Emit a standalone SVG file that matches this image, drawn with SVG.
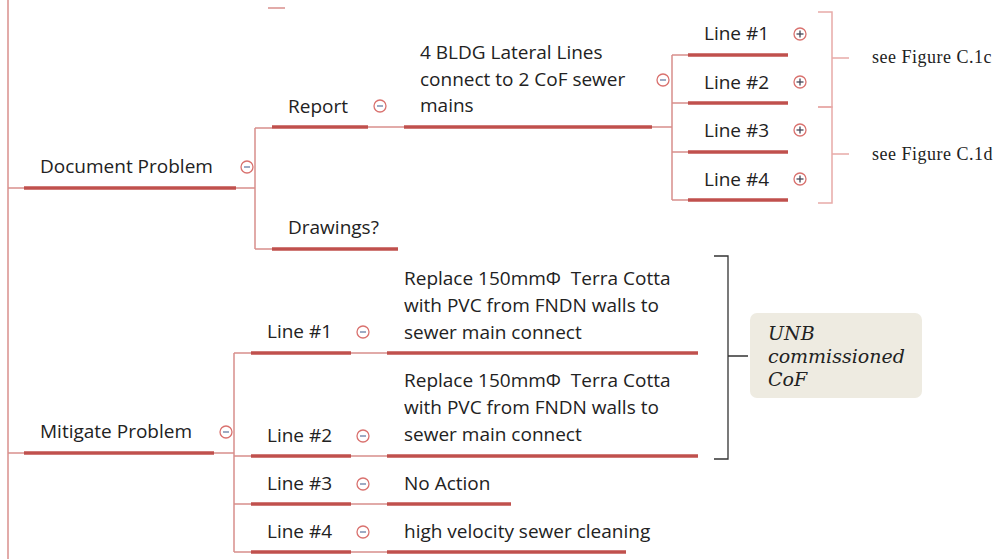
<svg xmlns="http://www.w3.org/2000/svg" width="998" height="559" viewBox="0 0 998 559">
<defs>
<style>
.t{font-family:"Open Sans","Noto Sans",sans-serif;font-size:19px;fill:#222;white-space:pre}
.s{font-family:"Liberation Serif",serif;font-size:18px;fill:#222;letter-spacing:0.5px}
.n{font-family:"DejaVu Serif",serif;font-size:19px;font-style:italic;fill:#222;}
.u{stroke:#c0504d;stroke-width:3.5;fill:none}
.c{stroke:#d88f8c;stroke-width:1.5;fill:none}
.b{stroke:#e8aaa8;stroke-width:1.5;fill:none}
.k{stroke:#333;stroke-width:1.3;fill:none}
.o{fill:#fff;stroke:#d9716e;stroke-width:1.3}
.m{stroke:#7c8fb0;stroke-width:1.5}
.p{stroke:#445;stroke-width:1.3}
</style>
<g id="minus"><circle class="o" r="6"/><line class="m" x1="-3" y1="0" x2="3" y2="0"/></g>
<g id="plus"><circle class="o" r="6"/><line class="p" x1="-3.5" y1="0" x2="3.5" y2="0"/><line class="p" x1="0" y1="-3.5" x2="0" y2="3.5"/></g>
</defs>
<rect width="998" height="559" fill="#fff"/>

<g id="connectors">
<line class="c" x1="8" y1="0" x2="8" y2="559"/>
<line class="c" x1="268" y1="8" x2="285" y2="8"/>
<line class="c" x1="8" y1="188" x2="24" y2="188"/>
<line class="c" x1="8" y1="453" x2="24" y2="453"/>
<path class="c" d="M236 188H255M255 128V249M255 128H272M255 249H272"/>
<path class="c" d="M368 127H404"/>
<path class="c" d="M652 127H672M672 55V200M672 55H688M672 103H688M672 152H688M672 200H688"/>
<path class="c" d="M214 453H234M234 353V552M234 353H251M234 456H251M234 504H251M234 552H251"/>
<path class="c" d="M351 353H388M351 456H388M351 504H388M351 552H388"/>
<path class="b" d="M818 12H832V107H818M832 58H849"/>
<path class="b" d="M818 107H832V203H818M832 154H849"/>
<path class="k" d="M714 256H728V459H714M728 356H748"/>
</g>

<g id="document-problem">
<line class="u" x1="24" y1="188" x2="236" y2="188"/>
<text class="t" x="40" y="173">Document Problem</text>
<use href="#minus" x="247" y="167"/>
</g>
<g id="report">
<line class="u" x1="272" y1="127" x2="368" y2="127"/>
<text class="t" x="288" y="113">Report</text>
<use href="#minus" x="380" y="106"/>
</g>
<g id="drawings">
<line class="u" x1="272" y1="249" x2="398" y2="249"/>
<text class="t" x="288" y="234">Drawings?</text>
</g>
<g id="lateral-lines">
<line class="u" x1="404" y1="127" x2="652" y2="127"/>
<text class="t" x="420" y="59">4 BLDG Lateral Lines</text>
<text class="t" x="420" y="86">connect to 2 CoF sewer</text>
<text class="t" x="420" y="112">mains</text>
<use href="#minus" x="663" y="80"/>
</g>
<g id="doc-line1">
<line class="u" x1="688" y1="55" x2="788" y2="55"/>
<text class="t" x="704" y="40">Line #1</text>
<use href="#plus" x="800" y="34"/>
</g>
<g id="doc-line2">
<line class="u" x1="688" y1="103" x2="788" y2="103"/>
<text class="t" x="704" y="89">Line #2</text>
<use href="#plus" x="800" y="82"/>
</g>
<g id="doc-line3">
<line class="u" x1="688" y1="152" x2="788" y2="152"/>
<text class="t" x="704" y="137">Line #3</text>
<use href="#plus" x="800" y="130"/>
</g>
<g id="doc-line4">
<line class="u" x1="688" y1="200" x2="788" y2="200"/>
<text class="t" x="704" y="186">Line #4</text>
<use href="#plus" x="800" y="179"/>
</g>
<g id="see-c1c"><text class="s" x="872" y="63">see Figure C.1c</text></g>
<g id="see-c1d"><text class="s" x="872" y="160">see Figure C.1d</text></g>

<g id="mitigate-problem">
<line class="u" x1="24" y1="453" x2="214" y2="453"/>
<text class="t" x="40" y="438">Mitigate Problem</text>
<use href="#minus" x="226" y="432"/>
</g>
<g id="mit-line1">
<line class="u" x1="251" y1="353" x2="351" y2="353"/>
<text class="t" x="267" y="338">Line #1</text>
<use href="#minus" x="363" y="332"/>
</g>
<g id="mit-line2">
<line class="u" x1="251" y1="456" x2="351" y2="456"/>
<text class="t" x="267" y="442">Line #2</text>
<use href="#minus" x="363" y="436"/>
</g>
<g id="mit-line3">
<line class="u" x1="251" y1="504" x2="351" y2="504"/>
<text class="t" x="267" y="490">Line #3</text>
<use href="#minus" x="363" y="484"/>
</g>
<g id="mit-line4">
<line class="u" x1="251" y1="552" x2="351" y2="552"/>
<text class="t" x="267" y="538">Line #4</text>
<use href="#minus" x="363" y="532"/>
</g>
<g id="replace1">
<line class="u" x1="387" y1="353" x2="698" y2="353"/>
<text class="t" x="404" y="285">Replace 150mmΦ  Terra Cotta</text>
<text class="t" x="404" y="312">with PVC from FNDN walls to</text>
<text class="t" x="404" y="339">sewer main connect</text>
</g>
<g id="replace2">
<line class="u" x1="387" y1="456" x2="698" y2="456"/>
<text class="t" x="404" y="387">Replace 150mmΦ  Terra Cotta</text>
<text class="t" x="404" y="414">with PVC from FNDN walls to</text>
<text class="t" x="404" y="441">sewer main connect</text>
</g>
<g id="no-action">
<line class="u" x1="387" y1="504" x2="511" y2="504"/>
<text class="t" x="404" y="490">No Action</text>
</g>
<g id="cleaning">
<line class="u" x1="387" y1="552" x2="626" y2="552"/>
<text class="t" x="404" y="538">high velocity sewer cleaning</text>
</g>
<g id="unb-note">
<rect x="750" y="313" width="172" height="85" rx="7" fill="#eeebe1"/>
<text class="n" x="768" y="340">UNB</text>
<text class="n" x="768" y="363">commissioned</text>
<text class="n" x="768" y="386">CoF</text>
</g>
</svg>
